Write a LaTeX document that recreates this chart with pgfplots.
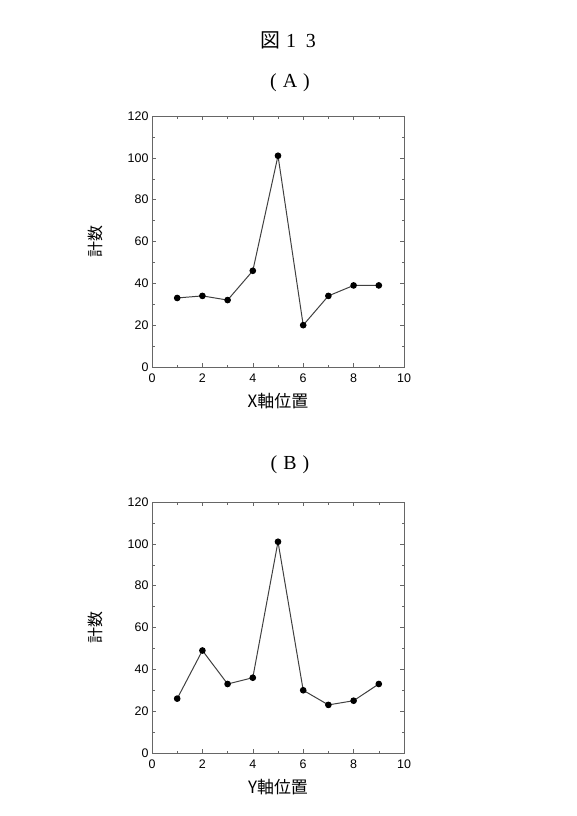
\documentclass[border=0pt]{standalone}
\usepackage{pgfplots}
\pgfplotsset{compat=1.18}
\usepackage{fontspec}
\setmainfont{Liberation Serif}
\setsansfont{Liberation Sans}
\newfontfamily\cjk{Noto Sans CJK JP}
\pgfplotsset{
  myax/.style={
    scale only axis, width=252bp, height=251bp,
    xmin=0, xmax=10, ymin=0, ymax=120,
    xtick={0,2,...,10}, ytick={0,20,...,120},
    minor x tick num=1, minor y tick num=1,
    tick align=inside, major tick length=4bp, minor tick length=2.5bp,
    axis line style={black!60, line width=0.5pt},
    every tick/.style={black!60, line width=0.5pt},
    tick label style={font=\fontsize{12.5}{12.5}\sffamily},
    xticklabel style={yshift=-3bp},
    /pgf/number format/assume math mode=true,
    ylabel style={at={(axis description cs:-0.225,0.5)}, anchor=center, rotate=0, font=\fontsize{16}{16}\cjk},
    xlabel style={font=\fontsize{17}{17}\cjk, yshift=-4bp},
    ylabel={計数},
  },
  myline/.style={black!75, line width=1pt, mark=*, mark size=2.8bp, mark options={fill=black, draw=black}},
}
\pgfplotstableread{
x y
1 33
2 34
3 32
4 46
5 101
6 20
7 34
8 39
9 39
}\dataA
\pgfplotstableread{
x y
1 26
2 49
3 33
4 36
5 101
6 30
7 23
8 25
9 33
}\dataB
\begin{document}
\begin{tikzpicture}
\path[use as bounding box] (0bp,0bp) rectangle (577bp,-816bp);
\node at (288bp,-40bp) {\fontsize{20}{20}\selectfont{\cjk 図}\hspace{6bp}1\hspace{10bp}3};
\node at (290bp,-83bp) {\fontsize{20}{20}\selectfont(\hspace{6bp}A\hspace{6bp})};
\node at (290bp,-465bp) {\fontsize{20}{20}\selectfont(\hspace{6bp}B\hspace{6bp})};
\begin{axis}[myax, at={(152bp,-367bp)}, anchor=south west, xlabel={X軸位置}]
\addplot[myline] table[x=x,y=y] {\dataA};
\end{axis}
\begin{axis}[myax, at={(152bp,-753bp)}, anchor=south west, xlabel={Y軸位置}]
\addplot[myline] table[x=x,y=y] {\dataB};
\end{axis}
\end{tikzpicture}
\end{document}
